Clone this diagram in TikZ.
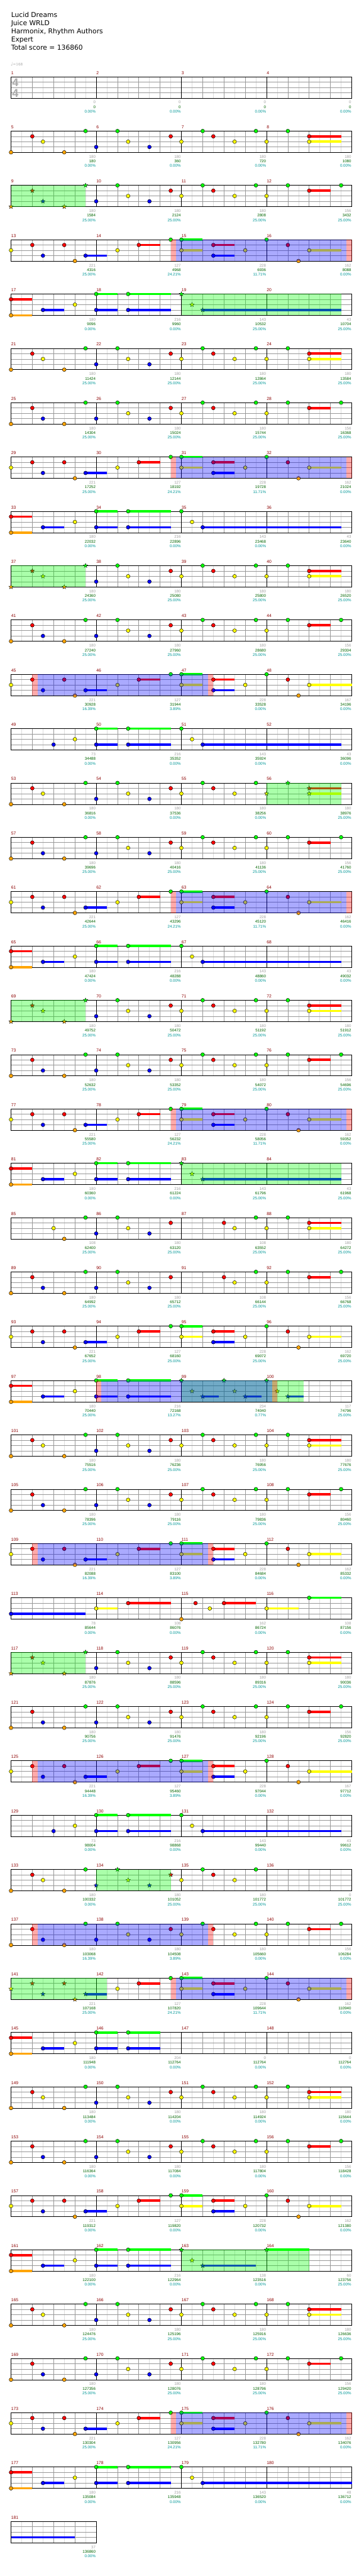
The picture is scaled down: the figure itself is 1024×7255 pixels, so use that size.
\documentclass[tikz,border=0pt]{standalone}
\usepackage{fontspec}
\setmainfont{Liberation Sans}
\newfontfamily\headfont{DejaVu Sans}
\usepackage{xcolor}
\usetikzlibrary{shapes.geometric}

% lane colours (green, red, yellow, blue, orange)
\definecolor{lane0}{RGB}{0,255,0}
\definecolor{lane1}{RGB}{255,0,0}
\definecolor{lane2}{RGB}{255,255,0}
\definecolor{lane3}{RGB}{0,0,255}
\definecolor{lane4}{RGB}{255,165,0}
\definecolor{measnum}{RGB}{139,0,0}
\definecolor{scoregray}{RGB}{160,160,160}
\definecolor{scoregreen}{RGB}{0,100,0}
\definecolor{scoreteal}{RGB}{0,150,150}
\definecolor{gridlight}{RGB}{221,221,221}
\definecolor{gridmid}{RGB}{153,153,153}
\definecolor{signgray}{RGB}{170,170,170}

% === Staff of one row (#1 = number of measures) ===
\newcommand{\drawstaff}[1]{%
  \pgfmathtruncatemacro{\nE}{8*#1-1}%
  \pgfmathsetmacro{\xR}{31+240*#1}%
  \foreach \i in {1,...,\nE} {\draw[gridlight] ({31+30*\i},\rowT) -- ++(0,60);}
  \foreach \k in {1,2,3} {\draw[gridmid] (31,{\rowT+15*\k}) -- (\xR,{\rowT+15*\k});}
  \foreach \i in {2,4,...,\nE} {\draw[gridmid] ({31+30*\i},\rowT) -- ++(0,60);}
  \ifnum#1>1 \foreach \i in {1,2,3} {\draw[black] ({31+240*\i},\rowT) -- ++(0,60);}\fi
  \draw[black] (31,\rowT) rectangle (\xR,{\rowT+60});
}

% === Notes (#1 = eighth, #2 = lane) ===
\newcommand{\cn}[2]{\filldraw[note, fill=lane#2] ({31+30*#1},{\rowT+15*#2}) circle[radius=5.3pt];}
\newcommand{\sn}[2]{\node[starnote, fill=lane#2] at ({31+30*#1},{\rowT+15*#2}) {};}
\newcommand{\sustain}[3]{\fill[lane#2] ({31+30*#1},{\rowT+15*#2-3.25}) rectangle ({31+30*#3},{\rowT+15*#2+3.25});}
\newcommand{\hold}[4]{\sustain{#2}{#3}{#4}#1{#2}{#3}}

% === Overlays ===
\newcommand{\spzone}[2]{\fill[spfill] ({31+30*#1},\rowT) rectangle ({31+30*#2},{\rowT+60});}
\newcommand{\odzone}[2]{%
  \fill[odedge] ({31+30*#1},\rowT) rectangle ({31+30*#1+14.5},{\rowT+60});
  \fill[odfill] ({31+30*#1+14.5},\rowT) rectangle ({31+30*#2-14.5},{\rowT+60});
  \fill[odedge] ({31+30*#2-14.5},\rowT) rectangle ({31+30*#2},{\rowT+60});}

% === Riff pieces ===
\newcommand{\AheadI}[1]{#1{0}{4}#1{2}{1}#1{3}{2}#1{5}{4}#1{7}{0}}
\newcommand{\AheadII}[1]{#1{0}{4}#1{2}{1}#1{3}{3}#1{5}{4}#1{7}{0}}
\newcommand{\AmidA}[1]{#1{8}{3}#1{10}{0}#1{11}{2}#1{13}{3}#1{15}{1}}
\newcommand{\AmidB}[1]{#1{16}{2}#1{18}{0}#1{19}{1}#1{21}{2}#1{23}{0}}
\newcommand{\AtailI}[1]{#1{24}{2}#1{26}{0}\hold{#1}{28}{1}{31}\hold{#1}{28}{2}{31}}
\newcommand{\AtailII}[1]{#1{24}{2}#1{26}{0}\hold{#1}{28}{1}{30}#1{31}{0}}
\newcommand{\Aone}{\AheadI\cn\AmidA\cn\AmidB\cn\AtailI\cn}
\newcommand{\Atwo}{\AheadII\cn\AmidA\cn\AmidB\cn\AtailII\cn}
\newcommand{\BheadA}[1]{#1{0}{2}#1{2}{1}#1{3}{3}#1{5}{1}#1{6}{4}\hold{#1}{7}{3}{9}}
\newcommand{\BheadB}[1]{#1{10}{2}\hold{#1}{12}{1}{14}#1{15}{0}}
\newcommand{\Btail}[1]{\hold\cn{16}{0}{18}\hold\cn{16}{2}{18}\hold\cn{19}{1}{21}\hold\cn{19}{3}{21}\cn{22}{2}\cn{24}{0}\cn{26}{1}\cn{27}{4}\hold\cn{28}{2}{#1}}
\newcommand{\Bfull}[1]{\BheadA\cn\BheadB\cn\Btail{#1}}
\newcommand{\CheadI}{\hold\cn{0}{1}{2}\hold\cn{0}{4}{2}\hold\cn{3}{3}{5}\cn{6}{2}}
\newcommand{\CheadII}{\cn{4}{3}\cn{6}{2}}
\newcommand{\Cmid}[1]{\hold\cn{8}{0}{10}\hold\cn{8}{3}{10}\hold\cn{11}{0}{#1}\hold\cn{11}{3}{#1}}
\newcommand{\Ctail}[2]{#1{16}{0}#1{17}{2}\hold{#1}{18}{3}{#2}}
\newcommand{\Dpart}{\hold\cn{0}{3}{7}\hold\cn{8}{2}{10}\hold\cn{11}{1}{15}\cn{16}{4}\cn{17.33}{1}\cn{18.67}{2}\hold\cn{20}{1}{23}\hold\cn{24}{2}{27}\hold\cn{28}{0}{31}}

% === One row: #1 row, #2 first measure, #3 measures, #4 scores, #5 notes ===
\newcommand{\chartrow}[5]{%
  \pgfmathsetmacro{\rowT}{216+153*#1}%
  \drawstaff{#3}%
  \foreach \g/\s/\p [count=\j] in {#4} {%
    \pgfmathtruncatemacro{\mn}{#2+\j-1}%
    \node[mnum] (m\mn) at ({31+240*(\j-1)},{\rowT-7}) {\mn};
    \node[sgray] (g\mn) at ({30+240*\j},{\rowT+76}) {\g};
    \node[sgreen] (s\mn) at ({30+240*\j},{\rowT+89}) {\s};
    \node[spct] (p\mn) at ({30+240*\j},{\rowT+102}) {\p\%};
  }%
  #5%
}

\begin{document}
\begin{tikzpicture}[
    x=1pt, y=-1pt,
    line width=1pt,
    headtxt/.style={anchor=base west, inner sep=0, font=\headfont\fontsize{19}{23}\selectfont},
    mnum/.style={anchor=base west, inner sep=0, text=measnum, font=\fontsize{12}{14}\selectfont},
    sgray/.style={anchor=base east, inner sep=0, text=scoregray, font=\fontsize{11}{13}\selectfont},
    sgreen/.style={anchor=base east, inner sep=0, text=scoregreen, font=\fontsize{11}{13}\selectfont},
    spct/.style={anchor=base east, inner sep=0, text=scoreteal, font=\fontsize{11}{13}\selectfont},
    timesig/.style={anchor=base west, inner sep=0, text=signgray, font=\bfseries\fontsize{32}{32}\selectfont},
    note/.style={draw=black, line width=0.8pt},
    starnote/.style={star, star points=5, star point ratio=2.4, minimum size=13pt,
        inner sep=0, draw=black, line width=0.6pt},
    spfill/.style={fill=lane0, fill opacity=0.333},
    odfill/.style={fill=lane3, fill opacity=0.333},
    odedge/.style={fill=lane1, fill opacity=0.333}
]
\useasboundingbox (0,0) rectangle (1024,7255);

% === Header ===
\node[headtxt] (title) at (31,49) {Lucid Dreams};
\node[headtxt] (artist) at (31,72) {Juice WRLD};
\node[headtxt] (charter) at (31,95) {Harmonix, Rhythm Authors};
\node[headtxt] (diff) at (31,118) {Expert};
\node[headtxt] (total) at (31,141) {Total score = 136860};
\node[anchor=base west, inner sep=0, text=signgray] (bpm) at (30,185)
    {\headfont\fontsize{13}{13}\selectfont ♩\fontsize{10}{12}\selectfont=168};

% === Rows ===
\chartrow{0}{1}{4}{0/0/0.00,0/0/0.00,0/0/0.00,0/0/0.00}{}
\node[timesig] (tsTop) at (34,244) {4};
\node[timesig] (tsBot) at (34,274) {4};
\chartrow{1}{5}{4}{180/180/0.00,180/360/0.00,180/720/0.00,180/1080/0.00}{\Aone}
\chartrow{2}{9}{4}{180/1584/25.00,180/2124/25.00,180/2808/25.00,156/3432/25.00}{\AheadII\sn\AmidA\cn\AmidB\cn\AtailII\cn\spzone{0}{7}}
\chartrow{3}{13}{4}{221/4316/25.00,127/4968/24.21,228/6936/11.71,162/8088/0.00}{\Bfull{31}\odzone{15}{32}}
\chartrow{4}{17}{4}{180/9096/0.00,216/9960/0.00,143/10532/25.00,43/10704/25.00}{\CheadI\Cmid{15}\Ctail\sn{31}\spzone{16}{31}}
\chartrow{5}{21}{4}{180/11424/25.00,180/12144/25.00,180/12864/25.00,180/13584/25.00}{\Aone}
\chartrow{6}{25}{4}{180/14304/25.00,180/15024/25.00,180/15744/25.00,156/16368/25.00}{\Atwo}
\chartrow{7}{29}{4}{221/17252/25.00,127/18192/24.21,228/19728/11.71,162/21024/0.00}{\Bfull{31}\odzone{15}{32}}
\chartrow{8}{33}{4}{180/22032/0.00,216/22896/0.00,143/23468/0.00,43/23640/0.00}{\CheadI\Cmid{15}\Ctail\cn{31}}
\chartrow{9}{37}{4}{180/24360/25.00,180/25080/25.00,180/25800/25.00,180/26520/25.00}{\AheadI\sn\AmidA\cn\AmidB\cn\AtailI\cn\spzone{0}{7}}
\chartrow{10}{41}{4}{180/27240/25.00,180/27960/25.00,180/28680/25.00,156/29304/25.00}{\Atwo}
\chartrow{11}{45}{4}{221/30928/16.39,127/31944/3.89,228/33528/0.00,167/34196/0.00}{\Bfull{32}\odzone{2}{19}}
\chartrow{12}{49}{4}{73/34488/0.00,216/35352/0.00,143/35924/0.00,43/36096/0.00}{\CheadII\Cmid{15}\Ctail\cn{31}}
\chartrow{13}{53}{4}{180/36816/0.00,180/37536/0.00,180/38256/0.00,180/38976/25.00}{\AheadI\cn\AmidA\cn\AmidB\cn\AtailI\sn\spzone{24}{31}}
\chartrow{14}{57}{4}{180/39696/25.00,180/40416/25.00,180/41136/25.00,156/41760/25.00}{\Atwo}
\chartrow{15}{61}{4}{221/42644/25.00,127/43296/24.21,228/45120/11.71,162/46416/0.00}{\Bfull{31}\odzone{15}{32}}
\chartrow{16}{65}{4}{180/47424/0.00,216/48288/0.00,143/48860/0.00,43/49032/0.00}{\CheadI\Cmid{15}\Ctail\cn{31}}
\chartrow{17}{69}{4}{180/49752/25.00,180/50472/25.00,180/51192/25.00,180/51912/25.00}{\AheadI\sn\AmidA\cn\AmidB\cn\AtailI\cn\spzone{0}{7}}
\chartrow{18}{73}{4}{180/52632/25.00,180/53352/25.00,180/54072/25.00,156/54696/25.00}{\Atwo}
\chartrow{19}{77}{4}{221/55580/25.00,127/56232/24.21,228/58056/11.71,162/59352/0.00}{\Bfull{31}\odzone{15}{32}}
\chartrow{20}{81}{4}{180/60360/0.00,216/61224/0.00,143/61796/25.00,43/61968/25.00}{\CheadI\Cmid{15}\Ctail\sn{31}\spzone{16}{31}}
\chartrow{21}{85}{4}{108/62400/25.00,180/63120/25.00,108/63552/25.00,180/64272/25.00}{\cn{4}{2}\cn{5}{4}\cn{7}{0}\AmidA\cn\cn{20}{1}\cn{21}{2}\cn{23}{0}\AtailI\cn}
\chartrow{22}{89}{4}{180/64992/25.00,180/65712/25.00,108/66144/25.00,156/66768/25.00}{\AheadII\cn\AmidA\cn\cn{20}{1}\cn{21}{2}\cn{23}{0}\AtailII\cn}
\chartrow{23}{93}{4}{221/67652/25.00,127/68160/25.00,228/69072/25.00,162/69720/25.00}{\Bfull{31}}
\chartrow{24}{97}{4}{180/70440/25.00,216/72168/13.27,234/74040/0.77,117/74796/25.00}{\CheadI\Cmid{15}\sn{16}{0}\sn{17}{2}\hold\sn{18}{3}{19.5}\sn{20}{0}\sn{21}{2}\hold\sn{22}{3}{23.5}\sn{24}{0}\sn{25}{2}\hold\sn{26}{3}{27.5}\spzone{16}{27.5}\odzone{8}{25}}
\chartrow{25}{101}{4}{180/75516/25.00,180/76236/25.00,180/76956/25.00,180/77676/25.00}{\Aone}
\chartrow{26}{105}{4}{180/78396/25.00,180/79116/25.00,180/79836/25.00,156/80460/25.00}{\Atwo}
\chartrow{27}{109}{4}{221/82088/16.39,127/83100/3.89,228/84684/0.00,162/85332/0.00}{\Bfull{31}\odzone{2}{19}}
\chartrow{28}{113}{4}{78/85644/0.00,108/86076/0.00,162/86724/0.00,108/87156/0.00}{\Dpart}
\chartrow{29}{117}{4}{180/87876/25.00,180/88596/25.00,180/89316/25.00,180/90036/25.00}{\AheadI\sn\AmidA\cn\AmidB\cn\AtailI\cn\spzone{0}{7}}
\chartrow{30}{121}{4}{180/90756/25.00,180/91476/25.00,180/92196/25.00,156/92820/25.00}{\Atwo}
\chartrow{31}{125}{4}{221/94448/16.39,127/95460/3.89,228/97044/0.00,167/97712/0.00}{\Bfull{32}\odzone{2}{19}}
\chartrow{32}{129}{4}{73/98004/0.00,216/98868/0.00,143/99440/0.00,43/99612/0.00}{\CheadII\Cmid{15}\Ctail\cn{31}}
\chartrow{33}{133}{4}{180/100332/0.00,180/101052/25.00,180/101772/25.00,0/101772/25.00}{\AheadI\cn\AmidA\sn\AmidB\cn\spzone{8}{15}}
\chartrow{34}{137}{4}{180/103068/16.39,180/104508/3.89,180/105660/0.00,156/106284/0.00}{\Atwo\odzone{2}{19}}
\chartrow{35}{141}{4}{221/107168/25.00,127/107820/24.21,228/109644/11.71,162/110940/0.00}{\BheadA\sn\BheadB\cn\Btail{31}\spzone{0}{9}\odzone{15}{32}}
\chartrow{36}{145}{4}{180/111948/0.00,204/112764/0.00,0/112764/0.00,0/112764/0.00}{\CheadI\Cmid{14}}
\chartrow{37}{149}{4}{180/113484/0.00,180/114204/0.00,180/114924/0.00,180/115644/0.00}{\Aone}
\chartrow{38}{153}{4}{180/116364/0.00,180/117084/0.00,180/117804/0.00,156/118428/0.00}{\Atwo}
\chartrow{39}{157}{4}{221/119312/0.00,127/119820/0.00,228/120732/0.00,162/121380/0.00}{\Bfull{31}}
\chartrow{40}{161}{4}{180/122100/0.00,216/122964/0.00,138/123516/0.00,60/123756/25.00}{\CheadI\Cmid{15}\sn{16}{0}\sn{17}{2}\hold\sn{18}{3}{23}\hold\sn{24}{0}{28}\spzone{16}{28}}
\chartrow{41}{165}{4}{180/124476/25.00,180/125196/25.00,180/125916/25.00,180/126636/25.00}{\Aone}
\chartrow{42}{169}{4}{180/127356/25.00,180/128076/25.00,180/128796/25.00,156/129420/25.00}{\Atwo}
\chartrow{43}{173}{4}{221/130304/25.00,127/130956/24.21,228/132780/11.71,162/134076/0.00}{\Bfull{31}\odzone{15}{32}}
\chartrow{44}{177}{4}{180/135084/0.00,216/135948/0.00,143/136520/0.00,48/136712/0.00}{\CheadI\Cmid{15}\Ctail\cn{32}}
\chartrow{45}{181}{1}{37/136860/0.00}{\sustain{0}{3}{6}}

\end{tikzpicture}
\end{document}
